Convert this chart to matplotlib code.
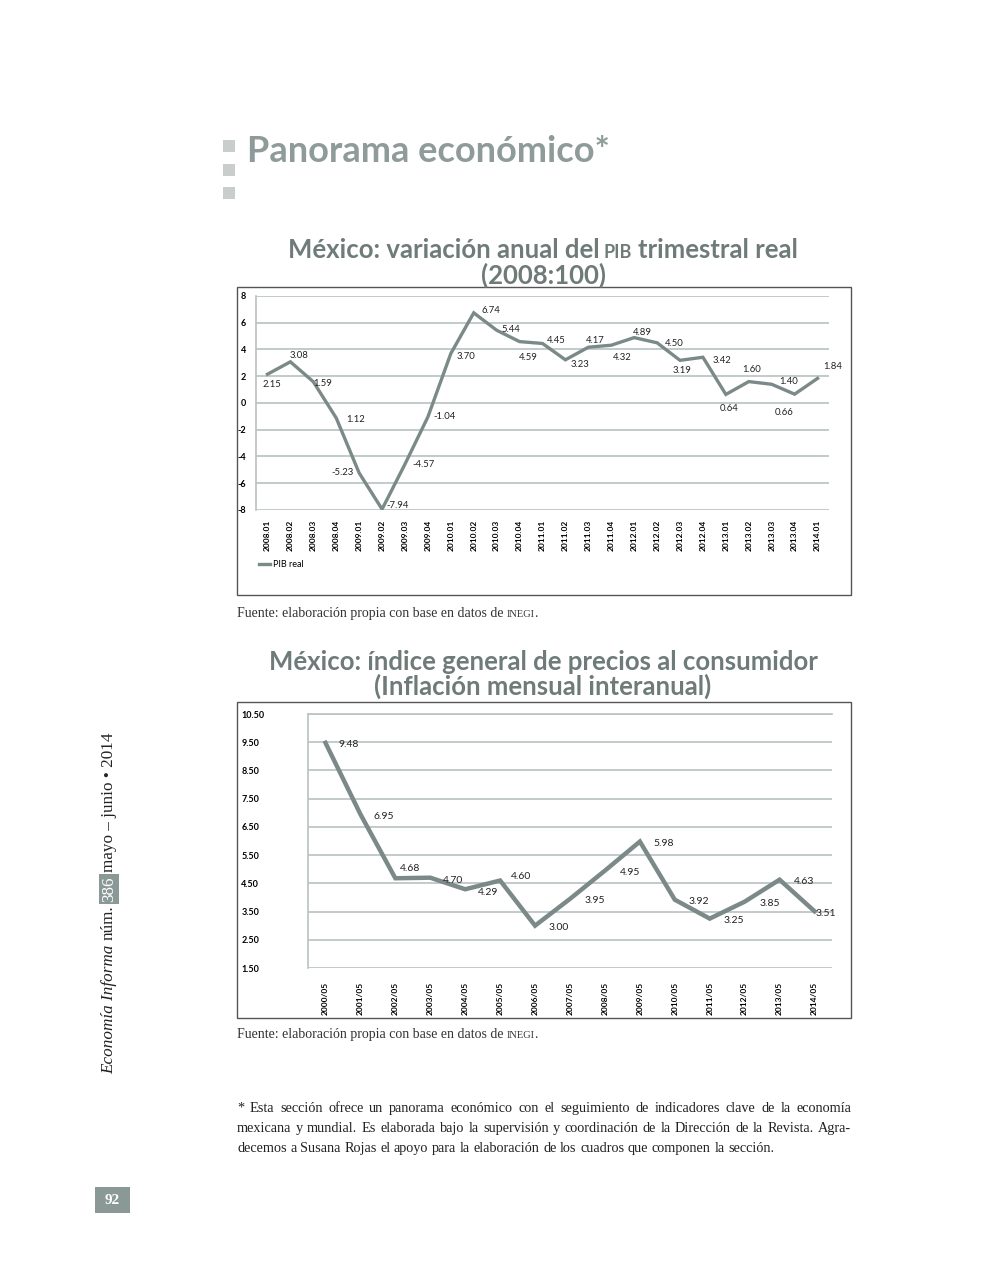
import matplotlib
matplotlib.use("Agg")
import matplotlib.pyplot as plt
from matplotlib.patches import Rectangle
from matplotlib.lines import Line2D

# ---------------- data ----------------
pib_quarters = ["2008.01", "2008.02", "2008.03", "2008.04", "2009.01", "2009.02", "2009.03",
                "2009.04", "2010.01", "2010.02", "2010.03", "2010.04", "2011.01", "2011.02",
                "2011.03", "2011.04", "2012.01", "2012.02", "2012.03", "2012.04", "2013.01",
                "2013.02", "2013.03", "2013.04", "2014.01"]
pib_values = [2.15, 3.08, 1.59, -1.12, -5.23, -7.94, -4.57, -1.04, 3.70, 6.74, 5.44, 4.59,
              4.45, 3.23, 4.17, 4.32, 4.89, 4.50, 3.19, 3.42, 0.64, 1.60, 1.40, 0.66, 1.84]
pib_labels = ["2.15", "3.08", "1.59", "1.12", "-5.23", "-7.94", "-4.57", "-1.04", "3.70",
              "6.74", "5.44", "4.59", "4.45", "3.23", "4.17", "4.32", "4.89", "4.50", "3.19",
              "3.42", "0.64", "1.60", "1.40", "0.66", "1.84"]
pib_yticks = [-8, -6, -4, -2, 0, 2, 4, 6, 8]

inpc_periods = ["2000/05", "2001/05", "2002/05", "2003/05", "2004/05", "2005/05", "2006/05",
                "2007/05", "2008/05", "2009/05", "2010/05", "2011/05", "2012/05", "2013/05",
                "2014/05"]
inpc_values = [9.48, 6.95, 4.68, 4.70, 4.29, 4.60, 3.00, 3.95, 4.95, 5.98, 3.92, 3.25, 3.85,
               4.63, 3.51]
inpc_yticks = [1.5, 2.5, 3.5, 4.5, 5.5, 6.5, 7.5, 8.5, 9.5, 10.5]

# label offsets in pixels (dx right, dy down) -- styling only
pib_offsets = [(4, 10), (9, -6), (9, 2), (19, 2), (-17, 0), (16, -4), (19, 0), (17, 0),
               (15, 3), (17, -2), (14, -1), (9, 16), (14, -3), (15, 5), (7, -7), (11, 12),
               (8, -5), (17, 1), (2, 10), (19, 3), (3, 14), (3, -12), (17, -3), (-10, 18),
               (15, -12)]
inpc_offsets = [(23, 2), (23, 2), (15, -10), (23, 3), (23, 3), (21, -4), (24, 2), (25, 2),
                (25, 2), (24, 2), (24, 2), (24, 2), (25, 2), (25, 2), (11, 2)]

# ---------------- page setup ----------------
W, H = 992, 1276
fig = plt.figure(figsize=(W / 100, H / 100), dpi=100)
renderer = fig.canvas.get_renderer()

SANS = "Lato"
SERIF = "Liberation Serif"
LINE_C = "#7b8a88"
GRID_C = "#b7c2c0"
TITLE_C = "#8e9b99"
CTITLE_C = "#6e7b79"
BOX_C = "#8a9896"


def fx(x):
    return x / W


def fy(y):
    return 1 - y / H


def tw(s, **kw):
    t = fig.text(0, 0, s, **kw)
    w = t.get_window_extent(renderer).width
    t.remove()
    return w


def space_w(**kw):
    return tw("a a", **kw) - tw("aa", **kw)


def rich_line(x, y, chunks, ha="left"):
    """chunks: list of (text, kwargs, space_before)"""
    widths = []
    total = 0
    for s, kw, sp in chunks:
        gap = space_w(**kw) if sp else 0
        w = tw(s, **kw)
        widths.append((gap, w))
        total += gap + w
    cur = x - total / 2 if ha == "center" else x
    for (s, kw, sp), (gap, w) in zip(chunks, widths):
        cur += gap
        fig.text(fx(cur), fy(y), s, ha="left", va="baseline", **kw)
        cur += w


def justified(x0, x1, y, text, last=False, **kw):
    words = text.split(" ")
    widths = [tw(w_, **kw) for w_ in words]
    if last:
        gap = space_w(**kw)
    else:
        gap = (x1 - x0 - sum(widths)) / (len(words) - 1)
    cur = x0
    for w_, wd in zip(words, widths):
        fig.text(fx(cur), fy(y), w_, ha="left", va="baseline", **kw)
        cur += wd + gap


# ---------------- header ----------------
for yy in (140, 164, 187):
    fig.patches.append(Rectangle((fx(223), fy(yy + 12)), 12 / W, 12 / H,
                                 transform=fig.transFigure, fc="#c9cecd", ec="none"))
fig.text(fx(247), fy(162), "Panorama económico*", ha="left", va="baseline",
         fontsize=26, fontweight="bold", family=SANS, color=TITLE_C)

# ---------------- chart 1 ----------------
fig.patches.append(Rectangle((fx(237), fy(595)), (851 - 237) / W, (595 - 287) / H,
                             transform=fig.transFigure, fc="none", ec="#555555", lw=1))
tkw = dict(fontsize=18.5, fontweight="bold", family=SANS, color=CTITLE_C)
skw = dict(fontsize=13, fontweight="bold", family=SANS, color=CTITLE_C)
rich_line(543, 258, [("México: variación anual del", tkw, False), ("PIB", skw, True),
                     ("trimestral real", tkw, True)], ha="center")
fig.text(fx(543), fy(284), "(2008:100)", ha="center", va="baseline", **tkw)

ax1 = fig.add_axes([fx(256), fy(510), (829 - 256) / W, (510 - 296) / H])
xs1 = list(range(len(pib_values)))
ax1.plot(xs1, pib_values, color=LINE_C, lw=2.4, solid_joinstyle="miter", zorder=3)
ax1.set_xlim(-0.5, len(pib_values) - 0.5)
ax1.set_ylim(-8, 8)
ax1.set_yticks(pib_yticks)
ax1.set_yticklabels([str(v) for v in pib_yticks], fontsize=6.5, fontweight="bold",
                    family=SANS)
ax1.set_xticks(xs1)
ax1.set_xticklabels(pib_quarters, rotation=90, fontsize=6, fontweight="bold", family=SANS,
                    va="top")
ax1.tick_params(length=0, pad=7)
ax1.grid(axis="y", color=GRID_C, lw=1.2)
ax1.set_axisbelow(True)
for s in ("top", "right", "bottom"):
    ax1.spines[s].set_visible(False)
ax1.spines["left"].set_color(GRID_C)
ax1.spines["left"].set_linewidth(1.2)
ax1.patch.set_alpha(0)
for x, v, lab, (dx, dy) in zip(xs1, pib_values, pib_labels, pib_offsets):
    ax1.annotate(lab, (x, v), xytext=(dx, -dy), textcoords="offset pixels",
                 ha="center", va="center", fontsize=6.8, family=SANS, color="#222222")
ax1.legend(handles=[Line2D([], [], color=LINE_C, lw=2.4)], labels=["PIB real"],
           loc="center left", bbox_to_anchor=(fx(251), fy(565)),
           bbox_transform=fig.transFigure, frameon=False, handlelength=1.2,
           handletextpad=0.3, prop=dict(family=SANS, size=6.5))

fkw = dict(fontsize=10, family=SERIF, color="#333333")
fskw = dict(fontsize=7.5, family=SERIF, color="#333333")
rich_line(237, 617, [("Fuente: elaboración propia con base en datos de", fkw, False),
                     ("INEGI", fskw, True), (".", fkw, False)])

# ---------------- chart 2 ----------------
fig.patches.append(Rectangle((fx(237), fy(1018)), (851 - 237) / W, (1018 - 702) / H,
                             transform=fig.transFigure, fc="none", ec="#555555", lw=1))
fig.text(fx(543), fy(670), "México: índice general de precios al consumidor", ha="center",
         va="baseline", **tkw)
fig.text(fx(543), fy(695), "(Inflación mensual interanual)", ha="center", va="baseline",
         **tkw)

ax2 = fig.add_axes([fx(308), fy(968), (832 - 308) / W, (968 - 714) / H])
xs2 = list(range(len(inpc_values)))
ax2.plot(xs2, inpc_values, color=LINE_C, lw=3.2, solid_joinstyle="miter", zorder=3)
ax2.set_xlim(-0.5, len(inpc_values) - 0.5)
ax2.set_ylim(1.5, 10.5)
ax2.set_yticks(inpc_yticks)
ax2.set_yticklabels([f"{v:.2f}" for v in inpc_yticks], fontsize=6.5, fontweight="bold",
                    family=SANS, ha="left")
ax2.tick_params(axis="y", length=0, pad=48)
ax2.set_xticks(xs2)
ax2.set_xticklabels(inpc_periods, rotation=90, fontsize=6, fontweight="bold", family=SANS,
                    va="top")
ax2.tick_params(axis="x", length=0, pad=10)
ax2.grid(axis="y", color=GRID_C, lw=1.2)
ax2.set_axisbelow(True)
for s in ("right", "bottom"):
    ax2.spines[s].set_visible(False)
ax2.spines["top"].set_color(GRID_C)
ax2.spines["top"].set_linewidth(1.2)
ax2.spines["left"].set_color(GRID_C)
ax2.spines["left"].set_linewidth(1.2)
ax2.patch.set_alpha(0)
for x, v, (dx, dy) in zip(xs2, inpc_values, inpc_offsets):
    ax2.annotate(f"{v:.2f}", (x, v), xytext=(dx, -dy), textcoords="offset pixels",
                 ha="center", va="center", fontsize=7.5, family=SANS, color="#222222")

rich_line(237, 1038, [("Fuente: elaboración propia con base en datos de", fkw, False),
                      ("INEGI", fskw, True), (".", fkw, False)])

# ---------------- footnote ----------------
nkw = dict(fontsize=10.3, family=SERIF, color="#222222")
foot = ["* Esta sección ofrece un panorama económico con el seguimiento de indicadores clave de la economía",
        "mexicana y mundial. Es elaborada bajo la supervisión y coordinación de la Dirección de la Revista. Agra-",
        "decemos a Susana Rojas el apoyo para la elaboración de los cuadros que componen la sección."]
for i, line in enumerate(foot):
    justified(237, 851, 1112 + 20 * i, line, last=(i == len(foot) - 1), **nkw)

# ---------------- side strip ----------------
side = [("Economía Informa", dict(fontsize=12.3, family=SERIF, style="italic", color="#222222"), False),
        ("núm.", dict(fontsize=12.3, family=SERIF, color="#222222"), True),
        ("386", dict(fontsize=12.3, family=SERIF, color="white"), True),
        ("mayo – junio • 2014", dict(fontsize=12.3, family=SERIF, color="#222222"), True)]
cur = 1074
xb = 113
for s, kw, sp in side:
    if sp:
        cur -= space_w(**kw)
    w = tw(s, **kw)
    extra = {}
    if s == "386":
        extra = dict(bbox=dict(boxstyle="square,pad=0.12", fc=BOX_C, ec="none"))
    fig.text(fx(xb), fy(cur), s, rotation=90, rotation_mode="anchor", ha="left",
             va="baseline", **kw, **extra)
    cur -= w

# page number
fig.patches.append(Rectangle((fx(95), fy(1213)), 35 / W, 26 / H, transform=fig.transFigure,
                             fc=BOX_C, ec="none"))
fig.text(fx(112.5), fy(1200), "92", ha="center", va="center", fontsize=11,
         fontweight="bold", family=SERIF, color="white")

fig.savefig("out.png", dpi=100)
